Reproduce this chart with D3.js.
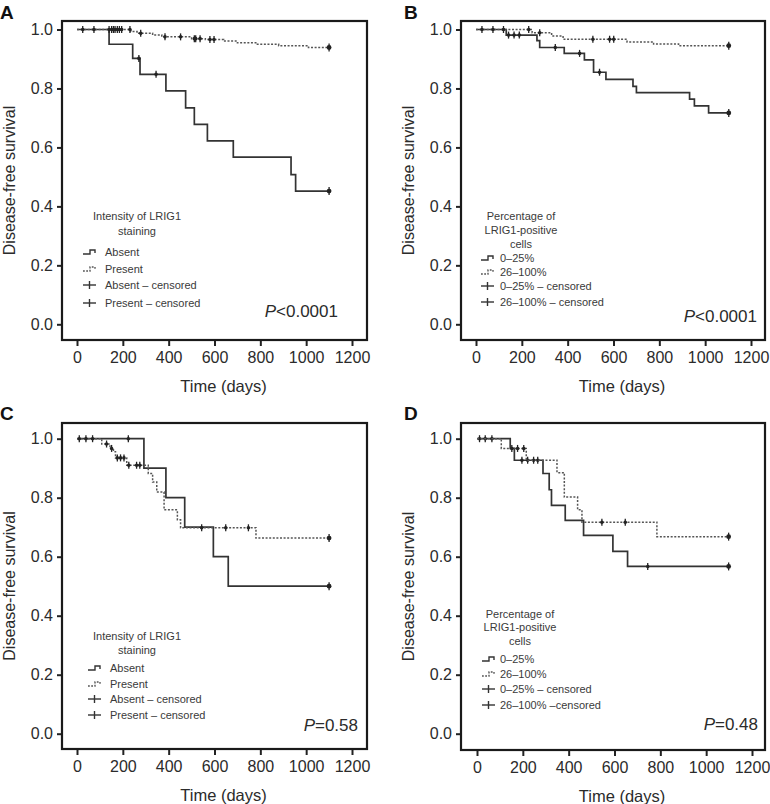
<!DOCTYPE html>
<html><head><meta charset="utf-8">
<script src="https://cdn.jsdelivr.net/npm/d3@7"></script>
<style>
html,body{margin:0;padding:0;background:#fff;}
svg{display:block;font-family:"Liberation Sans",Arial,Helvetica,sans-serif;}
</style></head>
<body>
<svg id="chart" width="770" height="804"></svg>
<script>
// ---- Data ----
const xTicks = [0, 200, 400, 600, 800, 1000, 1200];
const yTicks = [0, 0.2, 0.4, 0.6, 0.8, 1.0];

// Panel A: intensity of LRIG1 staining
const aAbsentTime = [140, 243, 275, 388, 474, 512, 569, 682, 934, 954];
const aAbsentSurv = [0.950, 0.902, 0.848, 0.792, 0.734, 0.678, 0.622, 0.567, 0.508, 0.452];
const aAbsentCens = [270, 345, 1100];
const aPresentTime = [235, 262, 330, 370, 500, 560, 640, 700, 780, 880, 1010];
const aPresentSurv = [0.993, 0.987, 0.981, 0.975, 0.969, 0.966, 0.961, 0.955, 0.950, 0.945, 0.939];
const aPresentCens = [25, 74, 140, 151, 159, 166, 176, 185, 195, 231, 278, 384, 452, 512, 518, 537, 580, 598, 1100];

// Panel B: percentage of LRIG1-positive cells
const bLowTime = [132, 266, 278, 385, 473, 513, 567, 685, 700, 932, 953, 1015];
const bLowSurv = [0.981, 0.962, 0.939, 0.919, 0.897, 0.855, 0.831, 0.807, 0.786, 0.764, 0.741, 0.717];
const bLowCens = [142, 166, 189, 346, 452, 539, 1103];
const bHighTime = [245, 330, 380, 659, 775, 884];
const bHighSurv = [0.989, 0.978, 0.967, 0.958, 0.951, 0.945];
const bHighCens = [26, 74, 120, 230, 278, 510, 583, 601, 1103];

// Panel C: intensity of LRIG1 staining
const cAbsentTime = [292, 388, 470, 595, 660];
const cAbsentSurv = [0.9, 0.8, 0.7, 0.6, 0.5];
const cAbsentCens = [224, 1100];
const cPresentTime = [108, 144, 159, 168, 217, 311, 330, 348, 380, 438, 452, 781];
const cPresentSurv = [0.982, 0.967, 0.956, 0.935, 0.910, 0.882, 0.853, 0.819, 0.759, 0.725, 0.698, 0.663];
const cPresentCens = [10, 39, 68, 129, 151, 176, 190, 205, 226, 260, 274, 544, 649, 748, 1100];

// Panel D: percentage of LRIG1-positive cells
const dLowTime = [145, 163, 288, 315, 325, 385, 465, 593, 657];
const dLowSurv = [0.967, 0.927, 0.882, 0.827, 0.774, 0.723, 0.672, 0.618, 0.567];
const dLowCens = [11, 36, 65, 196, 221, 247, 265, 745, 1098];
const dHighTime = [106, 215, 349, 381, 439, 458, 785];
const dHighSurv = [0.967, 0.927, 0.885, 0.802, 0.759, 0.717, 0.668];
const dHighCens = [152, 177, 204, 545, 647, 1098];

const panelLetters = ["A", "B", "C", "D"];
const pValues = [["<", "0.0001"], ["<", "0.0001"], ["=", "0.58"], ["=", "0.48"]];
const legendTitlesIntensity = ["Intensity of LRIG1", "staining"];
const legendTitlesPercent = ["Percentage of", "LRIG1-positive", "cells"];
const legendItemsIntensity = ["Absent", "Present", "Absent \u2013 censored", "Present \u2013 censored"];
const legendItemsPercentB = ["0\u201325%", "26\u2013100%", "0\u201325% \u2013 censored", "26\u2013100% \u2013 censored"];
const legendItemsPercentD = ["0\u201325%", "26\u2013100%", "0\u201325% \u2013 censored", "26\u2013100% \u2013censored"];

// ---- Layout ----
const panels = [
  {letter: panelLetters[0], lx: 0, ly: 19, box: [62, 21, 367, 340], xr: [77, 352], yr: [324.3, 29.5],
   series: [[aAbsentTime, aAbsentSurv, aAbsentCens, false], [aPresentTime, aPresentSurv, aPresentCens, true]],
   p: pValues[0], pPos: [338, 317],
   leg: {titles: legendTitlesIntensity, tx: 137, ty: 216, tdy: 15, items: legendItemsIntensity, ix: 105, iy: [252, 269, 285, 303], sx: 83}},
  {letter: panelLetters[1], lx: 404, ly: 19, box: [461, 21, 765, 340], xr: [476, 751], yr: [324.3, 29.5],
   series: [[bLowTime, bLowSurv, bLowCens, false], [bHighTime, bHighSurv, bHighCens, true]],
   p: pValues[1], pPos: [757, 322],
   leg: {titles: legendTitlesPercent, tx: 521, ty: 216, tdy: 14, items: legendItemsPercentB, ix: 500, iy: [258, 272, 286, 302], sx: 481}},
  {letter: panelLetters[2], lx: 0, ly: 420, box: [62, 423, 367, 749], xr: [77, 352], yr: [733.7, 438.7],
   series: [[cAbsentTime, cAbsentSurv, cAbsentCens, false], [cPresentTime, cPresentSurv, cPresentCens, true]],
   p: pValues[2], pPos: [358, 731],
   leg: {titles: legendTitlesIntensity, tx: 137, ty: 636, tdy: 14, items: legendItemsIntensity, ix: 110, iy: [668, 684, 699, 715], sx: 88}},
  {letter: panelLetters[3], lx: 404, ly: 420, box: [461, 423, 765, 750], xr: [477, 752], yr: [733.7, 438.7],
   series: [[dLowTime, dLowSurv, dLowCens, false], [dHighTime, dHighSurv, dHighCens, true]],
   p: pValues[3], pPos: [758, 730],
   leg: {titles: legendTitlesPercent, tx: 520, ty: 614, tdy: 13.5, items: legendItemsPercentD, ix: 500, iy: [659, 674, 689, 705], sx: 482}}
];

const svg = d3.select("#chart");
const textCol = "#2b2b2b";

function survAt(times, surv, t) {
  let s = 1;
  for (let i = 0; i < times.length; i++) { if (times[i] <= t) s = surv[i]; }
  return s;
}

panels.forEach(P => {
  const g = svg.append("g");
  const x = d3.scaleLinear().domain([0, 1200]).range(P.xr);
  const y = d3.scaleLinear().domain([0, 1]).range(P.yr);
  const [L, T, R, B] = P.box;

  // panel letter
  g.append("text").attr("x", P.lx).attr("y", P.ly).text(P.letter)
    .attr("font-size", 19).attr("font-weight", "bold").attr("fill", "#111");

  // axes
  const xAxis = d3.axisBottom(x).tickValues(xTicks).tickSize(6).tickPadding(6).tickFormat(d3.format("d"));
  const gx = g.append("g").attr("transform", `translate(0,${B})`).call(xAxis);
  gx.select(".domain").remove();
  gx.selectAll("line").attr("stroke", "#222").attr("stroke-width", 2);
  gx.selectAll("text").attr("font-size", 16).attr("fill", textCol)
    .attr("font-family", '"Liberation Sans",Arial,sans-serif');

  const yAxis = d3.axisLeft(y).tickValues(yTicks).tickSize(5).tickPadding(4).tickFormat(d3.format(".1f"));
  const gy = g.append("g").attr("transform", `translate(${L},0)`).call(yAxis);
  gy.select(".domain").remove();
  gy.selectAll("line").attr("stroke", "#222").attr("stroke-width", 2);
  gy.selectAll("text").attr("font-size", 16).attr("fill", textCol)
    .attr("font-family", '"Liberation Sans",Arial,sans-serif');

  // box
  g.append("rect").attr("x", L).attr("y", T).attr("width", R - L).attr("height", B - T)
    .attr("fill", "none").attr("stroke", "#1a1a1a").attr("stroke-width", 2.2);

  // axis titles
  g.append("text").attr("x", (L + R) / 2 + 9).attr("y", B + 52).attr("text-anchor", "middle")
    .attr("font-size", 16.5).attr("fill", textCol).text("Time (days)");
  g.append("text").attr("transform", `translate(${L - 53},${(T + B) / 2}) rotate(-90)`)
    .attr("text-anchor", "middle").attr("dy", "0.35em")
    .attr("font-size", 16).attr("fill", textCol).text("Disease-free survival");

  // curves
  const line = d3.line().x(d => x(d[0])).y(d => y(d[1])).curve(d3.curveStepAfter);
  P.series.forEach(([times, surv, cens, dashed]) => {
    const end = d3.max(cens);
    const pts = [[0, 1]].concat(times.map((t, i) => [t, surv[i]]));
    pts.push([end, surv[surv.length - 1]]);
    g.append("path").datum(pts).attr("d", line).attr("fill", "none")
      .attr("stroke", dashed ? "#555" : "#333").attr("stroke-width", dashed ? 1.5 : 1.7)
      .attr("stroke-dasharray", dashed ? "2,1.6" : null);
    const cg = g.append("g");
    cens.forEach(t => {
      const cx = x(t), cy = y(survAt(times, surv, t));
      const big = t >= 1090;
      cg.append("line").attr("x1", cx).attr("x2", cx).attr("y1", cy - (big ? 4 : 3.5)).attr("y2", cy + (big ? 4 : 3.5))
        .attr("stroke", "#222").attr("stroke-width", 1.3);
      cg.append("circle").attr("cx", cx).attr("cy", cy).attr("r", big ? 2.4 : 1.8).attr("fill", "#222");
    });
  });

  // legend
  const lg = g.append("g").attr("fill", "#3a3a3a");
  P.leg.titles.forEach((t, i) => {
    lg.append("text").attr("x", P.leg.tx).attr("y", P.leg.ty + i * P.leg.tdy).attr("text-anchor", "middle")
      .attr("dy", "0.35em").attr("font-size", 11).text(t);
  });
  P.leg.items.forEach((t, i) => {
    const yy = P.leg.iy[i];
    lg.append("text").attr("x", P.leg.ix).attr("y", yy).attr("dy", "0.35em").attr("font-size", 11).text(t);
    const sx = P.leg.sx;
    if (i < 2) {
      lg.append("path").attr("d", `M${sx},${yy + 2} H${sx + 7} V${yy - 2} H${sx + 12} V${yy + 1}`)
        .attr("fill", "none").attr("stroke", i === 0 ? "#333" : "#555").attr("stroke-width", 1.4)
        .attr("stroke-dasharray", i === 1 ? "1.8,1.4" : null);
    } else {
      lg.append("line").attr("x1", sx).attr("x2", sx + 13).attr("y1", yy).attr("y2", yy)
        .attr("stroke", "#333").attr("stroke-width", 1.4);
      lg.append("line").attr("x1", sx + 6.5).attr("x2", sx + 6.5).attr("y1", yy - 4).attr("y2", yy + 4)
        .attr("stroke", "#333").attr("stroke-width", 1.4);
    }
  });

  // p-value
  const pt = g.append("text").attr("x", P.pPos[0]).attr("y", P.pPos[1]).attr("text-anchor", "end")
    .attr("font-size", 17).attr("fill", textCol);
  pt.append("tspan").attr("font-style", "italic").text("P");
  pt.append("tspan").text(P.p[0] + P.p[1]);
});
</script>
</body></html>
